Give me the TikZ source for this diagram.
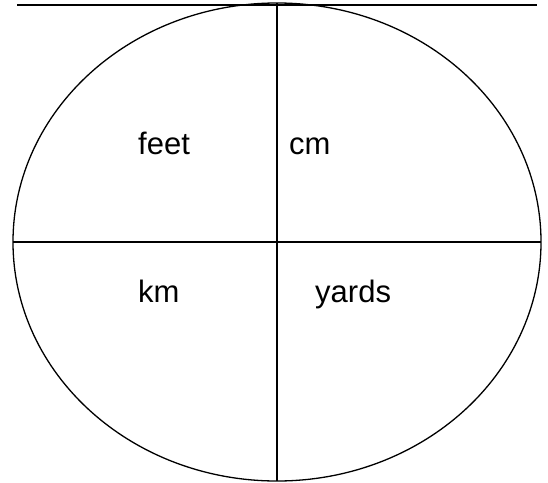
\documentclass[tikz,border=0pt]{standalone}
\usepackage{fontspec}
\setmainfont{Liberation Sans}
\usepackage{tikz}

\begin{document}
\begin{tikzpicture}[x=1pt, y=-1pt, line join=round, line cap=butt,
	lbl/.style={anchor=base west, inner sep=0pt, font=\fontsize{31}{36}\selectfont}]
	\def \rx{264} %horizontal radius of the ellipse
	\def \ry{239} %vertical radius of the ellipse
	\useasboundingbox (0,0) rectangle (548,482);
	\coordinate (O) at (277,242);
	\coordinate (T) at (277,3);
	\coordinate (B) at (277,481);
	\coordinate (L) at (13,242);
	\coordinate (R) at (541,242);
	\coordinate (u) at (17,5);
	\coordinate (v) at (537,5);
	\draw[line width=1.3pt] (O) ellipse ({\rx} and {\ry});
	\draw[line width=1.5pt] (T)--(B) (L)--(R);
	\draw[line width=2.6pt] (u)--(v);
	\node[lbl] (feet) at (138,154) {feet};
	\node[lbl] (cm) at (289,154) {cm};
	\node[lbl] (km) at (138,302) {km};
	\node[lbl] (yards) at (315,302) {yards};
\end{tikzpicture}
\end{document}
